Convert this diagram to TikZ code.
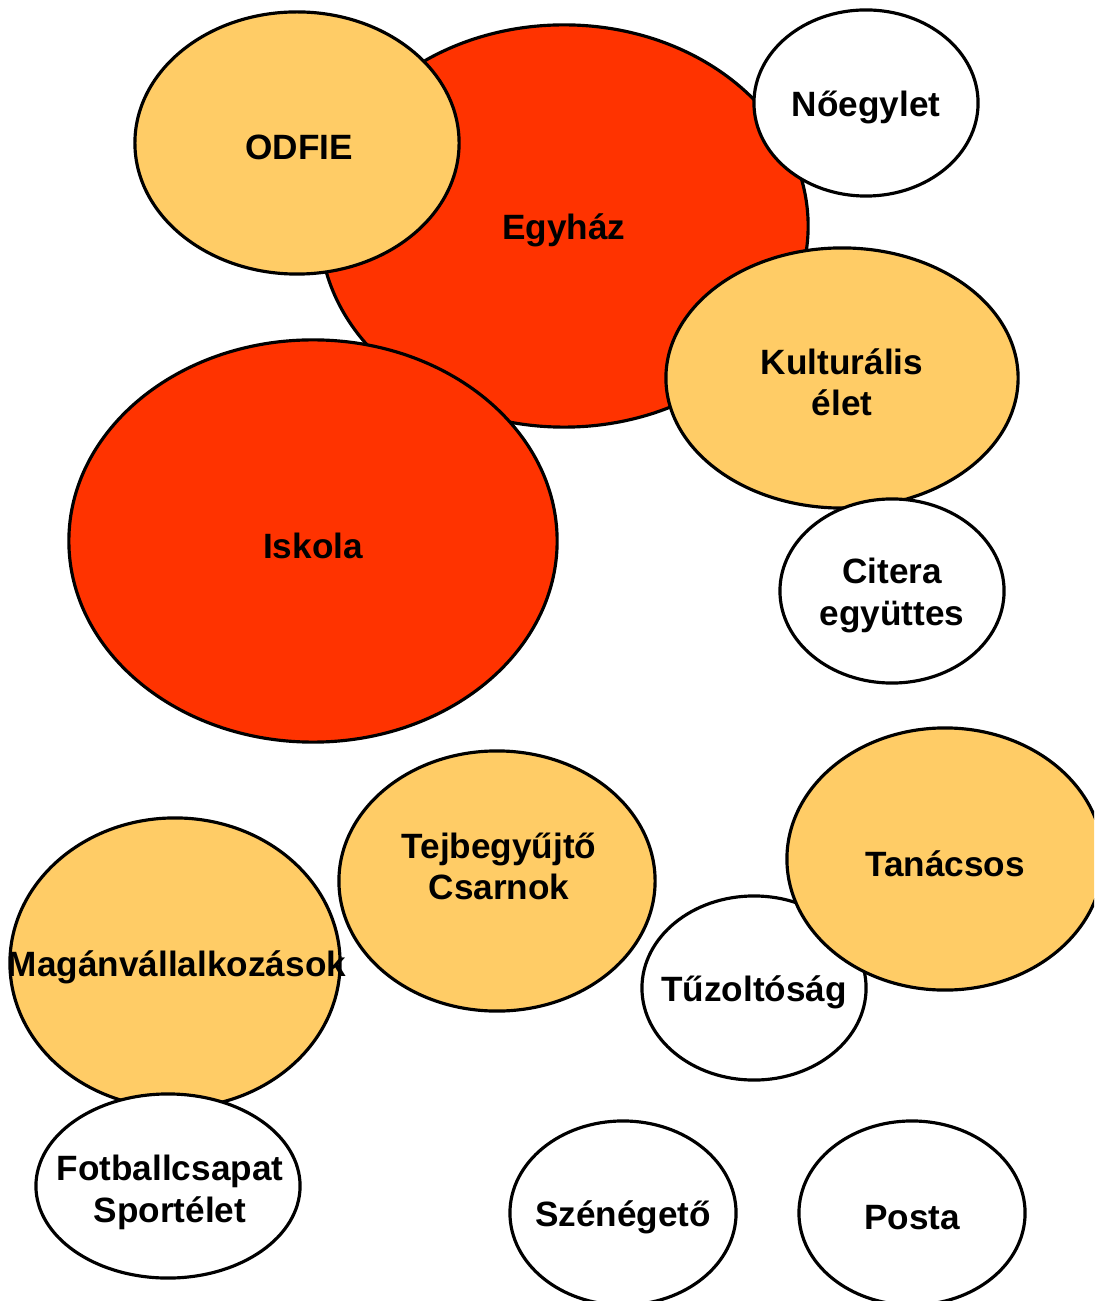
\documentclass[tikz,border=0pt]{standalone}
\usepackage{fontspec}
\setmainfont{Liberation Sans}
\usepackage{tikz}
\usetikzlibrary{shapes.geometric}

\definecolor{egyred}{HTML}{FF3300}
\definecolor{sand}{HTML}{FFCC66}

\begin{document}
\begin{tikzpicture}[x=0.01cm, y=-0.01cm]

        % Styles of the bubbles and of their labels
        \tikzset{
            bubble/.style={ellipse, draw=black, line width=0.9pt, inner sep=0pt, fill=white},
            size/.style 2 args={minimum width=#1, minimum height=#2},
            red bubble/.style={bubble, fill=egyred},
            sand bubble/.style={bubble, fill=sand},
            txt/.style={align=center, inner sep=0pt, yshift=-0.045cm,
                font=\bfseries\fontsize{10}{11.8}\selectfont}
        }

        % Page frame, in pixels of the original sketch
        \useasboundingbox (0, 0) rectangle (1094, 1301);
        \clip (0, 0) rectangle (1094, 1301);

        % Centres of the bubbles
        \begin{scope}
            \coordinate (c-egyhaz) at (564, 226);
            \coordinate (c-odfie) at (297, 143);
            \coordinate (c-noegylet) at (866, 103);
            \coordinate (c-kultura) at (842, 378);
            \coordinate (c-iskola) at (313, 541);
            \coordinate (c-citera) at (892, 591);
            \coordinate (c-tej) at (497, 881);
            \coordinate (c-tuzolto) at (754, 988);
            \coordinate (c-tanacs) at (945, 859);
            \coordinate (c-magan) at (175, 963);
            \coordinate (c-foci) at (168, 1186);
            \coordinate (c-szen) at (623, 1213);
            \coordinate (c-posta) at (912, 1213);
        \end{scope}

        % Upper group: church and school
        \begin{scope}
            \node at (c-egyhaz) [red bubble, size={4.88cm}{4.02cm}] (egyhaz) {};
            \node at (c-odfie) [sand bubble, size={3.24cm}{2.62cm}] (odfie) {};
            \node at (c-noegylet) [bubble, size={2.24cm}{1.86cm}] (noegylet) {};
            \node at (c-kultura) [sand bubble, size={3.52cm}{2.6cm}] (kultura) {};
            \node at (c-iskola) [red bubble, size={4.88cm}{4.02cm}] (iskola) {};
            \node at (c-citera) [bubble, size={2.24cm}{1.84cm}] (citera) {};

            \node at (egyhaz) [txt] (t-egyhaz) {Egyház};
            \node at (299, 143) [txt] (t-odfie) {ODFIE};
            \node at (noegylet) [txt] (t-noegylet) {Nőegylet};
            \node at (kultura) [txt] (t-kultura) {Kulturális\\élet};
            \node at (iskola) [txt] (t-iskola) {Iskola};
            \node at (citera) [txt] (t-citera) {Citera\\együttes};
        \end{scope}

        % Lower group
        \begin{scope}
            \node at (c-tej) [sand bubble, size={3.16cm}{2.6cm}] (tej) {};
            \node at (c-tuzolto) [bubble, size={2.24cm}{1.84cm}] (tuzolto) {};
            \node at (c-tanacs) [sand bubble, size={3.16cm}{2.62cm}] (tanacs) {};
            \node at (c-magan) [sand bubble, size={3.3cm}{2.9cm}] (magan) {};
            \node at (c-foci) [bubble, size={2.64cm}{1.84cm}] (foci) {};
            \node at (c-szen) [bubble, size={2.26cm}{1.84cm}] (szen) {};
            \node at (c-posta) [bubble, size={2.26cm}{1.84cm}] (posta) {};

            \node at (499, 862) [txt] (t-tej) {Tejbegyűjtő\\Csarnok};
            \node at (tuzolto) [txt] (t-tuzolto) {Tűzoltóság};
            \node at (tanacs) [txt] (t-tanacs) {Tanácsos};
            \node at (177, 963) [txt] (t-magan) {Magánvállalkozások};
            \node at (170, 1188) [txt] (t-foci) {Fotballcsapat\\Sportélet};
            \node at (szen) [txt] (t-szen) {Szénégető};
            \node at (posta) [txt] (t-posta) {Posta};
        \end{scope}

\end{tikzpicture}
\end{document}
